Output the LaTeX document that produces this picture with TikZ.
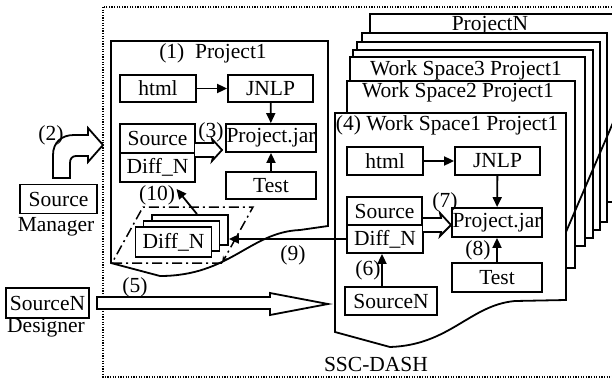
\documentclass[tikz,border=0pt]{standalone}
\usepackage{fontspec}
\setmainfont{Liberation Serif}
\usetikzlibrary{arrows.meta,calc}
\tikzset{
  ssc/.style={x=1pt,y=-1pt,line width=1.8pt,font=\fontsize{21.5}{24}\selectfont},
  blk/.style={draw,fill=white,inner sep=0pt,minimum width=76pt,minimum height=28pt},
  arr/.style={-{Triangle[length=10pt,width=9pt]}},
  layer/.style={draw,fill=white},
  hollow/.style={draw,fill=white,line join=miter},
}

\begin{document}
\begin{tikzpicture}[ssc]
  \useasboundingbox (0,0) rectangle (612,380);
  \clip (0,0) rectangle (612,380);
  % dotted frame of the whole system
  \draw[line width=1.2pt,dash pattern=on 1.2pt off 1.4pt] (103,7) rectangle (640,377);
  \node (ssc) at (376,364) {SSC-DASH};

  % work space stack, back to front
  \draw[layer] (370,14) rectangle (640,202);
  \node (pn) at (490,26) {ProjectN};
  \draw[layer] (362,33) rectangle (607,222);
  \draw[layer] (357,42) rectangle (600,230);
  \draw[layer] (353,50) rectangle (593,238);
  \draw[layer] (350,57) rectangle (585,246);
  \node (ws3) at (466,70) {Work Space3 Project1};
  \draw[layer] (347,81) rectangle (575,268);
  \node (ws2) at (458,92) {Work Space2 Project1};
  \draw[layer] (335,113) -- (566,113) -- (566,300) -- (515,301)
    .. controls (470,305) and (450,345) .. (390,347) -- (335,332) -- cycle;
  \node (ws1) at (447,125) {(4) Work Space1 Project1};
  \draw (566,232) -- (615,118);

  \node[blk] (html2) at (385,161) {html};
  \node[blk,minimum width=85pt] (jnlp2) at (497.5,161) {JNLP};
  \node[blk,minimum width=75pt] (src2) at (384.5,211) {Source};
  \node[blk] (diff2) at (385,239) {Diff\_N};
  \node[blk,minimum width=90pt,minimum height=29pt] (jar2) at (497,222.5) {Project.jar};
  \node[blk,minimum width=90pt,minimum height=29pt] (test2) at (497,277.5) {Test};
  \node[blk,minimum width=92pt] (srcn2) at (391,301) {SourceN};
  \draw[arr] (html2) -- (jnlp2);
  \draw[arr] (jnlp2) -- (jar2);
  \draw[arr] (test2) -- (jar2);
  \draw[arr] ([xshift=-9pt]srcn2.north) -- ([xshift=-9pt]srcn2.north |- diff2.south);
  \draw[hollow] (423,218) -- (441,218) -- (440,213) -- (451,225) -- (440,236) -- (441,232) -- (423,232);
  \node (l7) at (445,202) {(7)};
  \node (l8) at (478,250) {(8)};
  \node (l6) at (368,270) {(6)};

  % Project1
  \draw[layer] (111,41) -- (328,41) -- (328,226) -- (300,230)
    .. controls (250,232) and (230,276) .. (160,276) -- (111,263) -- cycle;
  \node (p1) at (213,53) {(1)\ \ Project1};
  \node[blk,minimum height=27pt] (html1) at (158,88.5) {html};
  \node[blk,minimum width=85pt,minimum height=27pt] (jnlp1) at (270.5,88.5) {JNLP};
  \node[blk,minimum width=75pt,minimum height=29pt] (src1) at (157.5,138.5) {Source};
  \node[blk,minimum width=75pt,minimum height=29pt] (diff1) at (157.5,167.5) {Diff\_N};
  \node[blk,minimum width=90pt] (jar1) at (271,138) {Project.jar};
  \node[blk,minimum width=90pt,minimum height=27pt] (test1) at (271,185.5) {Test};
  \draw[arr] (html1) -- (jnlp1);
  \draw[arr] (jnlp1) -- (jar1);
  \draw[arr] (test1) -- (jar1);
  \draw[hollow] (195,143) -- (213,143) -- (212,139) -- (222,150) -- (212,161) -- (213,157) -- (195,157);
  \node (l3) at (211,132) {(3)};

  % diff stack
  \node[blk,minimum height=30pt] (diffc) at (190,230) {};
  \node[blk,minimum height=30pt] (diffb) at (181.5,236) {};
  \node[blk,minimum height=30pt] (diffa) at (173.5,242) {Diff\_N};
  \draw[line width=1.5pt,dash pattern=on 10pt off 4pt on 2pt off 4pt,-{Stealth[length=7pt]}]
    (222,263) -- (112,263) -- (143,207) -- (253,207) -- (222,263);
  \draw[arr] ([xshift=7pt]diffc.north) -- ([xshift=19pt,yshift=-6pt]diff1.south);
  \node (l10) at (157,195) {(10)};
  \draw[arr] (diff2.west) -- (diff2.west -| diffc.east);
  \node (l9) at (293,255) {(9)};

  % source manager
  \node[blk,minimum width=77pt,minimum height=29pt] (srcm) at (58.5,199) {Source};
  \node (mgr) at (56,227) {Manager};
  \draw[hollow] (53,178) -- (53,155) .. controls (53,142) and (62,135) .. (74,135) -- (88,135)
    -- (88,128) -- (103,145) -- (88,162) -- (88,156) -- (76,156)
    .. controls (72,156) and (70,159) .. (70,163) -- (70,178) -- cycle;
  \node (l2) at (51,135) {(2)};

  % designer
  \node[blk,minimum width=83pt,minimum height=30pt] (srcn1) at (47.5,303) {SourceN};
  \node (dsg) at (46,328) {Designer};
  \draw[hollow] (97,297) -- (270,297) -- (270,293) -- (328,304) -- (270,315) -- (270,309) -- (97,309) -- cycle;
  \node (l5) at (135,287) {(5)};
\end{tikzpicture}
\end{document}
